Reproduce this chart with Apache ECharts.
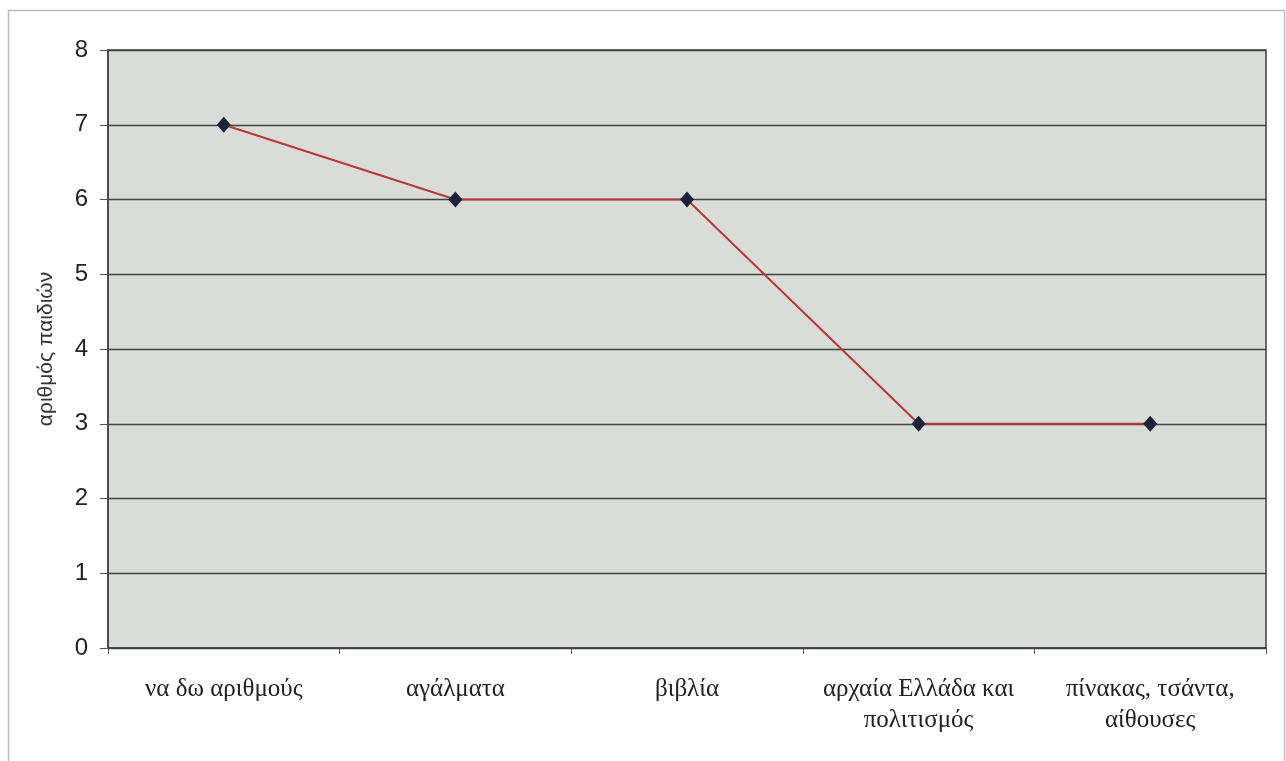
<!DOCTYPE html>
<html>
<head>
<meta charset="utf-8">
<script src="https://cdn.jsdelivr.net/npm/echarts@6/dist/echarts.min.js"></script>
<style>
  html, body { margin: 0; padding: 0; background: #ffffff; }
  #chart { width: 1286px; height: 761px; }
</style>
</head>
<body>
<div id="chart"></div>
<script>
// Categories shown along the x axis
const categories = [
  'να δω αριθμούς',
  'αγάλματα',
  'βιβλία',
  'αρχαία Ελλάδα και\nπολιτισμός',
  'πίνακας, τσάντα,\nαίθουσες'
];
// Number of children per category
const children = [7, 6, 6, 3, 3];
// Y axis range
const yMin = 0;
const yMax = 8;
const yStep = 1;
const yAxisTitle = 'αριθμός παιδιών';

const chart = echarts.init(document.getElementById('chart'), null, { renderer: 'canvas' });

chart.setOption({
  animation: false,
  backgroundColor: '#ffffff',
  graphic: [
    {
      type: 'rect',
      left: 6, top: 8,
      shape: { width: 1276, height: 760 },
      style: { fill: 'none', stroke: '#b8bcb8', lineWidth: 1.5 },
      z: -10
    }
  ],
  grid: {
    left: 108, right: 20, top: 50, bottom: 113,
    show: true,
    backgroundColor: '#d9dcd8',
    borderColor: '#3c4240',
    borderWidth: 1.5
  },
  xAxis: {
    type: 'category',
    data: categories,
    boundaryGap: true,
    axisLine: { show: true, lineStyle: { color: '#3c4240', width: 1.5 } },
    axisTick: { show: true, alignWithLabel: false, length: 6, lineStyle: { color: '#555' } },
    axisLabel: {
      interval: 0,
      margin: 26,
      color: '#222',
      fontFamily: 'Liberation Serif',
      fontSize: 25,
      lineHeight: 31
    },
    splitLine: { show: false }
  },
  yAxis: {
    type: 'value',
    min: yMin,
    max: yMax,
    interval: yStep,
    name: yAxisTitle,
    nameLocation: 'middle',
    nameGap: 51,
    nameRotate: 90,
    nameTextStyle: { color: '#333', fontFamily: 'Liberation Sans', fontSize: 21 },
    axisLine: { show: true, lineStyle: { color: '#3c4240', width: 1.5 } },
    axisTick: { show: true, length: 8, lineStyle: { color: '#555' } },
    axisLabel: { color: '#222', fontFamily: 'Liberation Sans', fontSize: 24, margin: 20 },
    splitLine: { show: true, lineStyle: { color: '#3e4442', width: 1.3 } }
  },
  series: [
    {
      type: 'line',
      data: children,
      symbol: 'diamond',
      symbolSize: [14, 16],
      itemStyle: { color: '#1c2238' },
      lineStyle: { color: '#b8383a', width: 2 },
      z: 5
    }
  ]
});
</script>
</body>
</html>
